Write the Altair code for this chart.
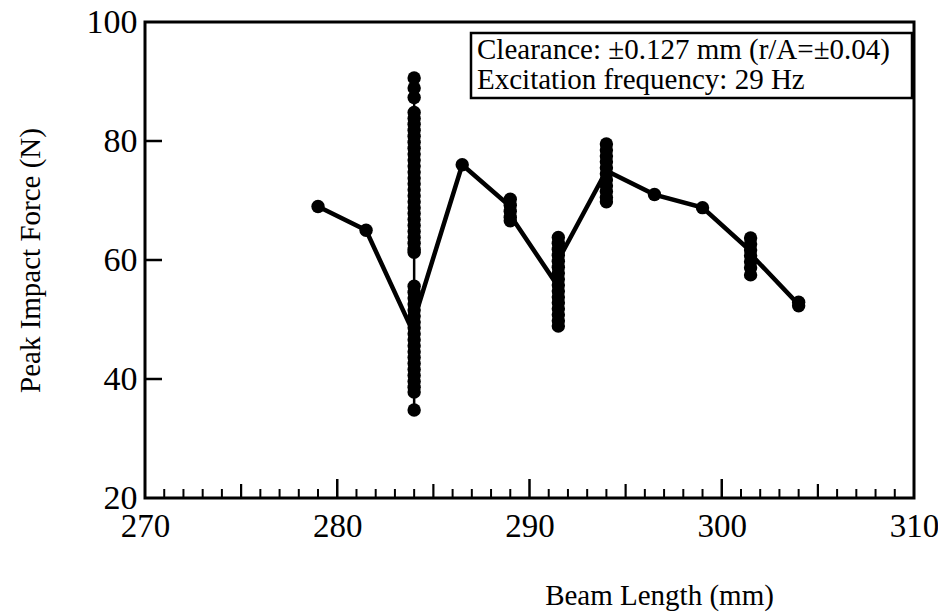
import altair as alt
import pandas as pd

# ---- data ----
beam_length = [279.0, 281.5, 284.0, 286.5, 289.0, 291.5, 294.0, 296.5, 299.0, 301.5, 304.0]
peak_force = [
    [69],
    [65],
    [90.6, 88.9, 87.3, 84.8, 83.8, 82.8, 81.8, 80.8, 79.8, 78.8, 77.8, 76.8, 75.8,
     74.8, 73.8, 72.8, 71.8, 70.8, 69.8, 68.8, 67.8, 66.8, 65.8, 64.8, 63.8, 62.8,
     61.8, 61.3,
     55.6, 54.6, 53.6, 52.6, 51.6, 50.6, 49.6, 48.6, 47.6, 46.6, 45.6, 44.6, 43.6,
     42.6, 41.6, 40.6, 39.6, 38.6, 37.8, 34.8],
    [76],
    [70.2, 69.2, 68.2, 67.2, 66.6],
    [63.8, 62.8, 61.8, 60.8, 59.8, 58.8, 57.8, 56.8, 55.8, 54.8, 53.8, 52.8, 51.8,
     50.8, 49.8, 48.9],
    [79.5, 78.5, 77.5, 76.5, 75.5, 74.5, 73.5, 72.5, 71.5, 70.5, 69.8],
    [71],
    [68.8],
    [63.7, 62.7, 61.7, 60.7, 59.7, 58.7, 57.5],
    [52.3, 52.9],
]
# where the connecting line enters / leaves each column of points
line_in = [69, 65, 47.5, 76, 69, 55.5, 75, 71, 68.8, 61.5, 52.5]
line_out = [69, 65, 50, 76, 67.5, 60, 75, 71, 68.8, 61.0, 52.5]

x_major_labels = [270, 280, 290, 300, 310]
y_major_labels = [20, 40, 60, 80, 100]
x_major_ticks = [280, 290, 300]
x_mid_ticks = [275, 285, 295, 305]
x_minor_ticks = [v for v in range(271, 310) if v % 5 != 0]
y_ticks = [40, 60, 80]

annotation_lines = ["Clearance: \u00b10.127 mm (r/A=\u00b10.04)",
                    "Excitation frequency: 29 Hz"]

# ---- tables ----
pts = pd.DataFrame([(x, y) for x, ys in zip(beam_length, peak_force) for y in ys],
                   columns=["x", "y"])
line_rows = []
for i, x in enumerate(beam_length):
    line_rows.append((x, line_in[i], 2 * i))
    line_rows.append((x, line_out[i], 2 * i + 1))
line_df = pd.DataFrame(line_rows, columns=["x", "y", "o"])
span_df = pd.DataFrame({"x": beam_length,
                        "lo": [min(v) for v in peak_force],
                        "hi": [max(v) for v in peak_force]})

W, H = 769, 476
FONT = "Liberation Serif"

xscale = alt.Scale(domain=[270, 310], nice=False, zero=False)
yscale = alt.Scale(domain=[20, 100], nice=False, zero=False)

xaxis = alt.Axis(values=x_major_labels, tickSize=0, domain=False, grid=False,
                 labelFont=FONT, labelFontSize=33, labelColor="black",
                 labelPadding=12, labelFlush=False, labelOverlap=False,
                 title="Beam Length (mm)", titleFont=FONT, titleFontSize=29,
                 titleFontWeight="normal", titleColor="black",
                 titleX=514, titleY=97, titleBaseline="middle", titleAlign="center")
yaxis = alt.Axis(values=y_major_labels, tickSize=0, domain=False, grid=False,
                 labelFont=FONT, labelFontSize=34, labelColor="black",
                 labelPadding=8, labelFlush=False, labelOverlap=False,
                 title="Peak Impact Force (N)", titleFont=FONT, titleFontSize=29,
                 titleFontWeight="normal", titleColor="black",
                 titleX=-115, titleY=H / 2, titleAngle=-90,
                 titleBaseline="middle", titleAlign="center")

points = alt.Chart(pts).mark_circle(size=180, color="black", opacity=1).encode(
    x=alt.X("x:Q", scale=xscale, axis=xaxis),
    y=alt.Y("y:Q", scale=yscale, axis=yaxis),
)

line = alt.Chart(line_df).mark_line(color="black", strokeWidth=4.5).encode(
    x=alt.X("x:Q", scale=xscale),
    y=alt.Y("y:Q", scale=yscale),
    order="o:Q",
)

span = alt.Chart(span_df).mark_rule(color="black", strokeWidth=2.5).encode(
    x=alt.X("x:Q", scale=xscale),
    y=alt.Y("lo:Q", scale=yscale),
    y2="hi:Q",
)


def xticks(vals, length, width):
    return alt.Chart(pd.DataFrame({"v": vals})).mark_rule(
        color="black", strokeWidth=width).encode(
        x=alt.X("v:Q", scale=xscale),
        y=alt.value(H), y2=alt.value(H - length))


yt = alt.Chart(pd.DataFrame({"v": y_ticks})).mark_rule(
    color="black", strokeWidth=2.5).encode(
    y=alt.Y("v:Q", scale=yscale), x=alt.value(0), x2=alt.value(17))

frame = alt.Chart(pd.DataFrame({"a": [0]})).mark_rect(
    fill="transparent", stroke="black", strokeWidth=3).encode(
    x=alt.value(0), x2=alt.value(W), y=alt.value(0), y2=alt.value(H))

box = alt.Chart(pd.DataFrame({"a": [0]})).mark_rect(
    fill="white", stroke="black", strokeWidth=2.5).encode(
    x=alt.value(326), x2=alt.value(767), y=alt.value(11), y2=alt.value(76))

txt = alt.Chart(pd.DataFrame({"a": [0]})).mark_text(
    align="left", baseline="top", font=FONT, fontSize=29, lineHeight=30,
    color="black").encode(
    x=alt.value(332), y=alt.value(14), text=alt.value(annotation_lines))

chart = alt.layer(
    xticks(x_minor_ticks, 9, 2), xticks(x_mid_ticks, 14, 2.2),
    xticks(x_major_ticks, 19, 2.5), yt,
    line, span, points, frame, box, txt,
).properties(
    width=W, height=H,
    autosize=alt.AutoSizeParams(type="none"),
    padding={"left": 145, "top": 22, "right": 24, "bottom": 117},
).configure_view(
    stroke=None
).configure(background="white")

chart.save("out.html", embed_options={"renderer": "svg", "actions": False})
